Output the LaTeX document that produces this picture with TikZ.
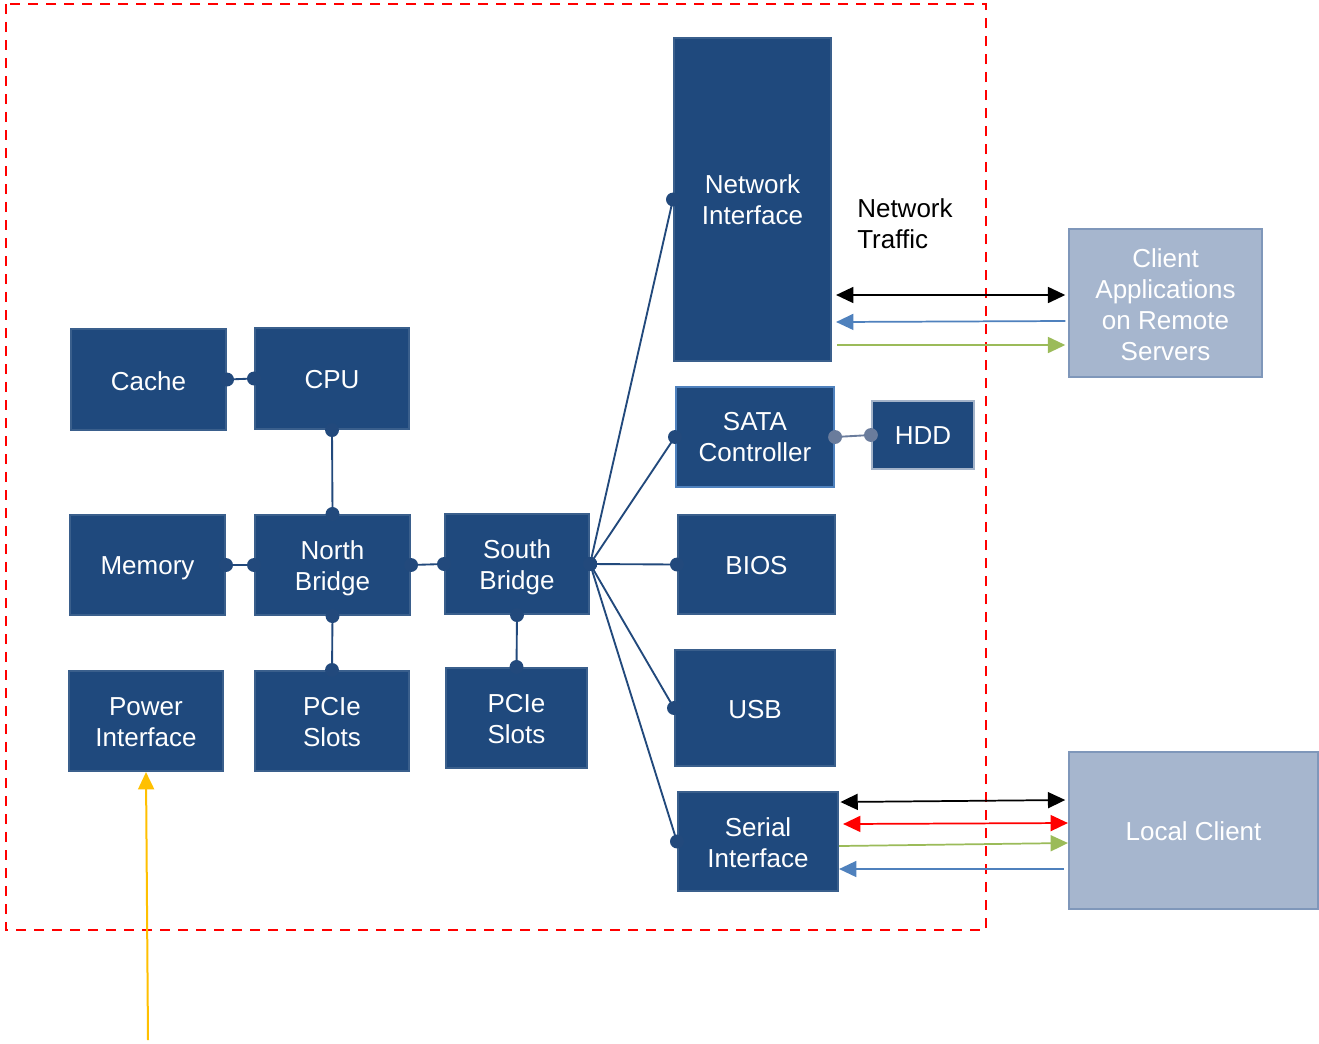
\documentclass[tikz,border=0pt]{standalone}
\usepackage{fontspec}
\setmainfont{Liberation Sans}
\usetikzlibrary{arrows.meta}
\definecolor{boxfill}{HTML}{1F497D}
\definecolor{boxline}{HTML}{3A5F8C}
\definecolor{sataline}{HTML}{4F81BD}
\definecolor{hddline}{HTML}{A3B3C9}
\definecolor{clfill}{HTML}{A6B6CE}
\definecolor{clline}{HTML}{7F97BA}
\definecolor{linkc}{HTML}{22497C}
\definecolor{hddlink}{HTML}{6A7C9C}
\definecolor{bluearr}{HTML}{4F81BD}
\definecolor{greenarr}{HTML}{9BBB59}
\definecolor{yellowarr}{HTML}{FFC000}
\newcommand\bx[8][]{%
  \node[box,#1,minimum width={(#5-#3)*0.75pt},minimum height={(#6-#4)*0.75pt}]
    (#2) at ({(#3+#5)/2},{(#4+#6)/2}) {};
  \node[boxtext] (#2-t) at ([yshift=-#8pt]#2.center) {#7};}
\newcommand\lnk[3][linkc]{%
  \draw[link,draw=#1] (#2) -- (#3);
  \fill[#1] (#2) circle (5.2pt);
  \fill[#1] (#3) circle (5.2pt);}
\begin{document}
\begin{tikzpicture}[x=0.75pt,y=-0.75pt,
  box/.style={draw=boxline,line width=1.6pt,fill=boxfill,inner sep=0pt},
  boxtext/.style={text=white,align=center,inner sep=0pt,font=\fontsize{19.5}{23.3}\selectfont},
  client/.style={box,fill=clfill,draw=clline},
  link/.style={line width=1.4pt},
  arr/.style={line width=1.3pt,-{Triangle[length=13pt,width=12pt]}},
  darr/.style={line width=1.3pt,{Triangle[length=13pt,width=12pt]}-{Triangle[length=13pt,width=12pt]}}]
\useasboundingbox (0,0) rectangle (1319,1043);
\fill[white] (0,0) rectangle (1319,1043);
% boundary
\draw[red,line width=1.6pt,dash pattern=on 7.5pt off 6pt] (6,4) rectangle (986,930);
% boxes
\bx{cache}{71}{329}{226}{430}{Cache}{0.9}
\bx{cpu}{255}{328}{409}{429}{CPU}{0.9}
\bx{mem}{70}{515}{225}{615}{Memory}{2.3}
\bx{nb}{255}{515}{410}{615}{North\\Bridge}{2.3}
\bx{sb}{445}{514}{589}{614}{South\\Bridge}{2.3}
\bx{pwr}{69}{671}{223}{771}{Power\\Interface}{0.8}
\bx{pcie1}{255}{671}{409}{771}{PCIe\\Slots}{0.8}
\bx{pcie2}{446}{668}{587}{768}{PCIe\\Slots}{0.6}
\bx{ni}{674}{38}{831}{361}{Network\\Interface}{0}
\bx[draw=sataline]{sata}{676}{387}{834}{487}{SATA\\Controller}{0}
\bx[draw=hddline]{hdd}{872}{401}{974}{469}{HDD}{0.6}
\bx{bios}{678}{515}{835}{614}{BIOS}{0.8}
\bx{usb}{675}{650}{835}{766}{USB}{0.8}
\bx{ser}{678}{792}{838}{891}{Serial\\Interface}{0.8}
\bx[client]{rem}{1069}{229}{1262}{377}{Client\\Applications\\on Remote\\Servers}{1.2}
\bx[client]{loc}{1069}{752}{1318}{909}{Local Client}{0.8}
\node[anchor=west,align=left,inner sep=0pt,font=\fontsize{19.5}{23.3}\selectfont] (nt) at (857,224) {Network\\Traffic};
% links
\lnk{cache.east}{cpu.west}
\lnk{cpu.south}{nb.north}
\lnk{mem.east}{nb.west}
\lnk{nb.east}{sb.west}
\lnk{nb.south}{pcie1.north}
\lnk{sb.south}{pcie2.north}
\lnk{sb.east}{ni.west}
\lnk{sb.east}{sata.west}
\lnk{sb.east}{bios.west}
\lnk{sb.east}{usb.west}
\lnk{sb.east}{ser.west}
\lnk[hddlink]{sata.east}{hdd.west}
% network traffic arrows
\draw[darr,black] ([xshift=3pt]ni.east |- 0,295) -- ([xshift=-2pt]rem.west |- 0,295);
\draw[arr,bluearr] ([xshift=-2pt]rem.west |- 0,321) -- ([xshift=3pt]ni.east |- 0,322);
\draw[arr,greenarr] ([xshift=4pt]ni.east |- 0,345) -- ([xshift=-2pt]rem.west |- 0,345);
% serial arrows
\draw[darr,black] ([xshift=1pt]ser.east |- 0,802) -- ([xshift=-2pt]loc.west |- 0,800);
\draw[darr,red] ([xshift=3pt]ser.east |- 0,824) -- (loc.west |- 0,823);
\draw[arr,greenarr] (ser.east |- 0,846) -- (loc.west |- 0,843);
\draw[arr,bluearr] ([xshift=-3pt]loc.west |- 0,869) -- (ser.east |- 0,869);
% power
\coordinate (pin) at (148,1040);
\draw[arr,yellowarr,line width=1.5pt] (pin) -- (pwr.south);
\end{tikzpicture}
\end{document}
